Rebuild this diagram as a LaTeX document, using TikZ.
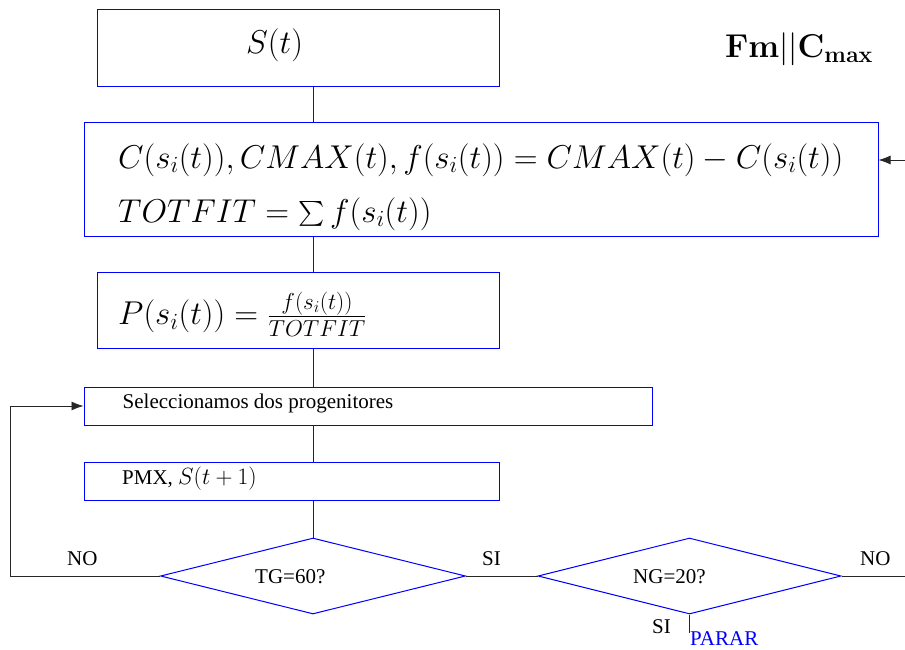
\documentclass[tikz,border=0pt]{standalone}
\usepackage{fix-cm}
\usepackage{amsmath}
\usepackage[no-math]{fontspec}
\setmainfont{Liberation Serif}
\usetikzlibrary{shapes.geometric,arrows.meta}
\begin{document}
\begin{tikzpicture}[x=1pt,y=-1pt,
  box/.style={draw=blue,line width=1pt,rectangle,inner sep=0pt},
  dia/.style={draw=blue,line width=1pt,diamond,inner sep=0pt},
  conn/.style={draw=black!85,line width=0.8pt},
  tip/.style={-{Latex[length=12pt,width=9pt]}},
  hugem/.style={font=\fontsize{33}{40}\selectfont,inner sep=0pt},
  smallt/.style={font=\fontsize{21}{25}\selectfont,inner sep=0pt,anchor=base west},
  lab/.style={font=\fontsize{21}{25}\selectfont,inner sep=0pt,anchor=base west}]
\useasboundingbox (0,0) rectangle (905,650);
% boxes
\node[box,minimum width=402pt,minimum height=77pt] (b1) at (298,48.5) {};
\node[box,minimum width=794pt,minimum height=113pt] (b2) at (481,179.5) {};
\node[box,minimum width=402pt,minimum height=76pt] (b3) at (298,310) {};
\node[box,minimum width=568pt,minimum height=38pt] (b4) at (368,406) {};
\node[box,minimum width=415pt,minimum height=38pt] (b5) at (291.5,481) {};
\node[dia,minimum width=305pt,minimum height=76pt] (d1) at (313,576) {};
\node[dia,minimum width=303pt,minimum height=76pt] (d2) at (689.5,576) {};
% texts
\node[hugem,anchor=base west] (t1) at (246,54) {$S(t)$};
\node[hugem,anchor=base west] (t2a) at (118,168) {$C(s_i(t)), CMAX(t), f(s_i(t)) = CMAX(t) - C(s_i(t))$};
\node[hugem,anchor=base west] (t2b) at (118,222) {$TOTFIT = \sum f(s_i(t))$};
\node[hugem,anchor=west] (t3) at (118,314) {$P(s_i(t)) = \frac{f(s_i(t))}{TOTFIT}$};
\node[smallt] (t4) at (122.5,408) {Seleccionamos dos progenitores};
\node[smallt] (t5) at (122,484) {PMX, {\fontsize{23.5}{28}\selectfont$S(t+1)$}};
\node[smallt] (t6) at (255,583) {TG=60?};
\node[smallt] (t7) at (633,583) {NG=20?};
\node[hugem] (title) at (799,49) {$\mathbf{Fm||C_{max}}$};
% connectors
\draw[conn] (b1.south -| 313,0) -- (b2.north -| 313,0);
\draw[conn] (b2.south -| 313,0) -- (b3.north -| 313,0);
\draw[conn] (b3.south -| 313,0) -- (b4.north -| 313,0);
\draw[conn] (b4.south -| 313,0) -- (b5.north -| 313,0);
\draw[conn] (b5.south -| 313,0) -- (d1.north);
\coordinate (rin) at (905,160);
\draw[conn,tip] (rin) -- (b2.east |- rin);
\coordinate (lc) at (10,576);
\draw[conn,tip] (d1.west) -- (lc) -- (lc |- b4.west) -- (b4.west);
\draw[conn] (d1.east) -- (d2.west);
\coordinate (rout) at (905,576);
\draw[conn] (d2.east) -- (rout);
\coordinate (stop) at (d2.south |- 0,633);
\draw[conn] (d2.south) -- (stop);
% labels
\node[lab] (no1) at (67,565) {NO};
\node[lab] (si1) at (482,565) {SI};
\node[lab] (no2) at (860,565) {NO};
\node[lab] (si2) at (652,633) {SI};
\node[lab,text=blue] (parar) at (690,645) {PARAR};
\end{tikzpicture}
\end{document}
